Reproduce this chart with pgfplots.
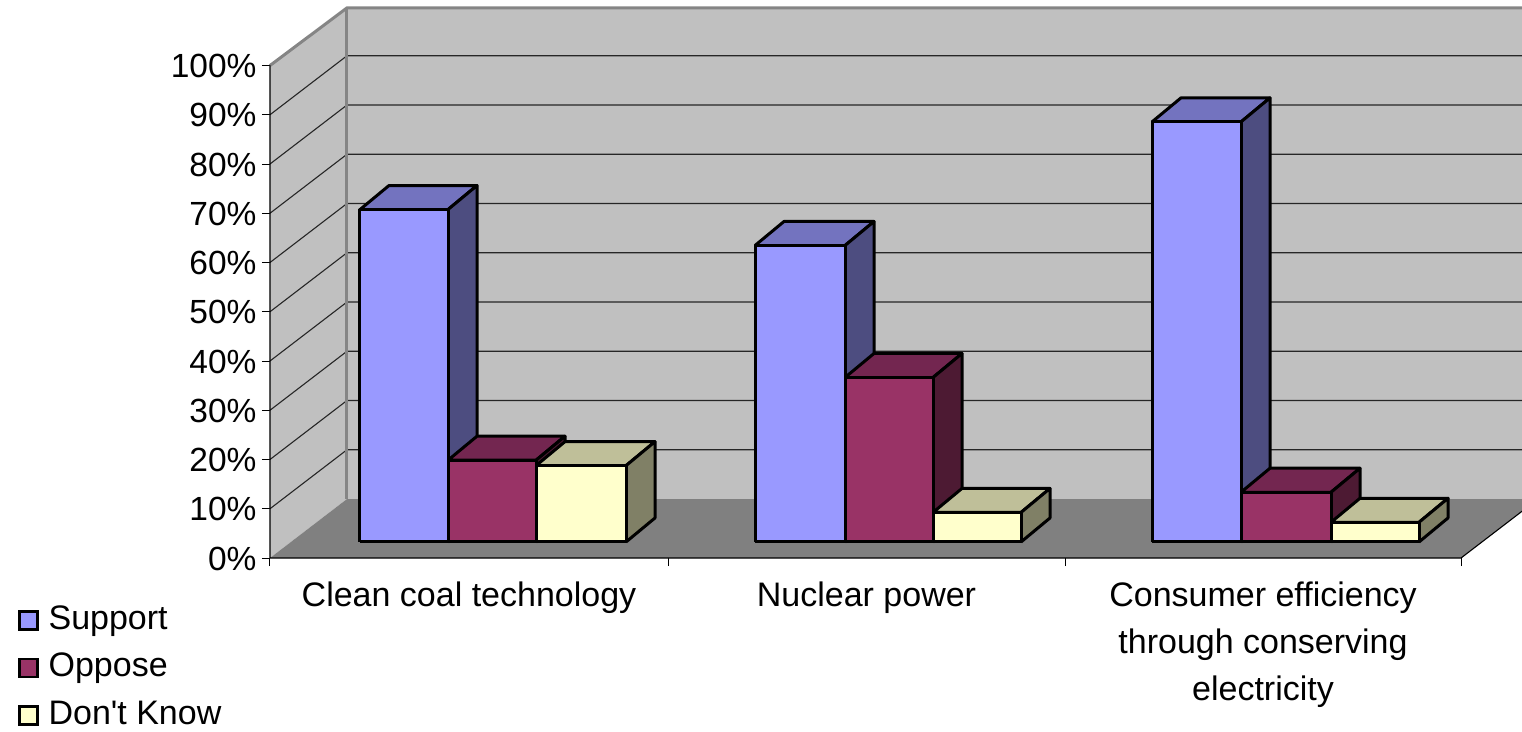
\documentclass[border=0pt]{standalone}
\usepackage{fontspec}
\setmainfont{Liberation Sans}
\newfontfamily\plainsans{Liberation Sans}
\usepackage{pgfplots}
\pgfplotsset{compat=1.18}

\definecolor{wall}{HTML}{C0C0C0}
\definecolor{floorc}{HTML}{808080}
\definecolor{edgec}{HTML}{858585}
\definecolor{supF}{HTML}{9999FF}
\definecolor{supT}{HTML}{7373BF}
\definecolor{supS}{HTML}{4D4D80}
\definecolor{oppF}{HTML}{993366}
\definecolor{oppT}{HTML}{732650}
\definecolor{oppS}{HTML}{4D1A33}
\definecolor{dkF}{HTML}{FFFFCC}
\definecolor{dkT}{HTML}{BFBF99}
\definecolor{dkS}{HTML}{808066}

% x0, x1, value, series prefix: front, top and side of one box
\newcommand{\boxbar}[4]{%
  \pgfmathsetmacro\ya{3.25}%
  \pgfmathsetmacro\yb{3.25+#3}%
  \pgfmathsetmacro\yc{3.25+#3+4.88}%
  \pgfmathsetmacro\yd{3.25+4.88}%
  \pgfmathsetmacro\xc{#1+29}%
  \pgfmathsetmacro\xd{#2+29}%
  \edef\temp{%
    \noexpand\addplot[forget plot,barline,fill=#4T] coordinates {(#1,\yb)(\xc,\yc)(\xd,\yc)(#2,\yb)(#1,\yb)};
    \noexpand\addplot[forget plot,barline,fill=#4S] coordinates {(#2,\ya)(\xd,\yd)(\xd,\yc)(#2,\yb)(#2,\ya)};
    \noexpand\addplot[forget plot,barline,fill=#4F] coordinates {(#1,\ya)(#2,\ya)(#2,\yb)(#1,\yb)(#1,\ya)};
  }\temp
}

\begin{document}
\begin{tikzpicture}
\path[use as bounding box] (-270pt,-173pt) rectangle (1252pt,558pt);
\begin{axis}[
    scale only axis,
    anchor=south west,
    at={(0pt,0pt)},
    width=1252pt,
    height=558pt,
    xmin=270, xmax=1522,
    ymin=0, ymax=113.3,
    clip=false,
    axis line style={draw=none},
    tick align=outside,
    xtick pos=bottom,
    ytick pos=left,
    ytick={0,10,...,100},
    yticklabels={0\%,10\%,20\%,30\%,40\%,50\%,60\%,70\%,80\%,90\%,100\%},
    xtick={469,866.5,1263},
    xticklabels={Clean coal technology,Nuclear power,{Consumer efficiency\\through conserving\\electricity}},
    minor xtick={270,668,1065,1461},
    major x tick style={draw=none},
    minor x tick style={black,line width=1pt},
    major y tick style={black,line width=1pt},
    major tick length=8pt,
    minor tick length=8pt,
    tick label style={font=\fontsize{33.5}{47}\selectfont},
    xticklabel style={align=center,font=\fontsize{34}{47}\selectfont,yshift=-12pt},
    yticklabel style={xshift=-2pt,yshift=-0.5pt},
    /pgf/number format/assume math mode=true,
    barline/.style={draw=black,line width=3pt,line join=round},
    legend style={
      at={(axis cs:18,-9.54)},anchor=north west,draw=none,fill=none,inner sep=0pt,
      font=\plainsans\fontsize{34}{40}\selectfont,row sep=16.5pt,
      nodes={inner xsep=0pt,inner ysep=0pt,text height=24pt,text depth=7pt},
    },
    legend cell align=left,
    legend image code/.code={\draw[#1,line width=2.4pt] (0pt,-9pt) rectangle (18pt,9pt); \path (29pt,0pt);},
  ]

  % walls and floor
  \addplot[forget plot,draw=none,fill=wall] coordinates {(270,0)(347,11.98)(347,111.7)(270,100)(270,0)};
  \addplot[forget plot,draw=none,fill=wall] coordinates {(347,11.98)(1538,11.98)(1538,111.7)(347,111.7)(347,11.98)};
  \addplot[forget plot,draw=none,fill=floorc] coordinates {(270,0)(347,11.98)(1538,11.98)(1461,0)(270,0)};

  % grid on side wall and back wall
  \foreach \v in {10,20,...,90} {
    \pgfmathsetmacro\w{\v+11.98}
    \edef\temp{\noexpand\addplot[forget plot,black!85,line width=1.1pt] coordinates {(270,\v)(347,\w)(1538,\w)};}
    \temp
  }
  \addplot[forget plot,edgec,line width=3pt] coordinates {(270,100)(347,111.7)(1538,111.7)};
  \addplot[forget plot,edgec,line width=3pt] coordinates {(347,11.98)(347,111.7)};
  \addplot[forget plot,black,line width=1.1pt] coordinates {(270,100)(270,0)(1461,0)(1538,11.98)};

  % Clean coal technology
  \boxbar{360}{448}{67.5}{sup}
  \boxbar{448}{536}{16.6}{opp}
  \boxbar{536}{626}{15.5}{dk}
  % Nuclear power
  \boxbar{755}{845}{60.2}{sup}
  \boxbar{845}{933}{33.4}{opp}
  \boxbar{933}{1021}{6.0}{dk}
  % Consumer efficiency
  \boxbar{1152}{1241}{85.3}{sup}
  \boxbar{1241}{1331}{10.1}{opp}
  \boxbar{1331}{1419}{4.0}{dk}

  \addlegendimage{fill=supF,draw=black}
  \addlegendentry{Support}
  \addlegendimage{fill=oppF,draw=black}
  \addlegendentry{Oppose}
  \addlegendimage{fill=dkF,draw=black}
  \addlegendentry{Don't Know}
\end{axis}
\end{tikzpicture}
\end{document}
